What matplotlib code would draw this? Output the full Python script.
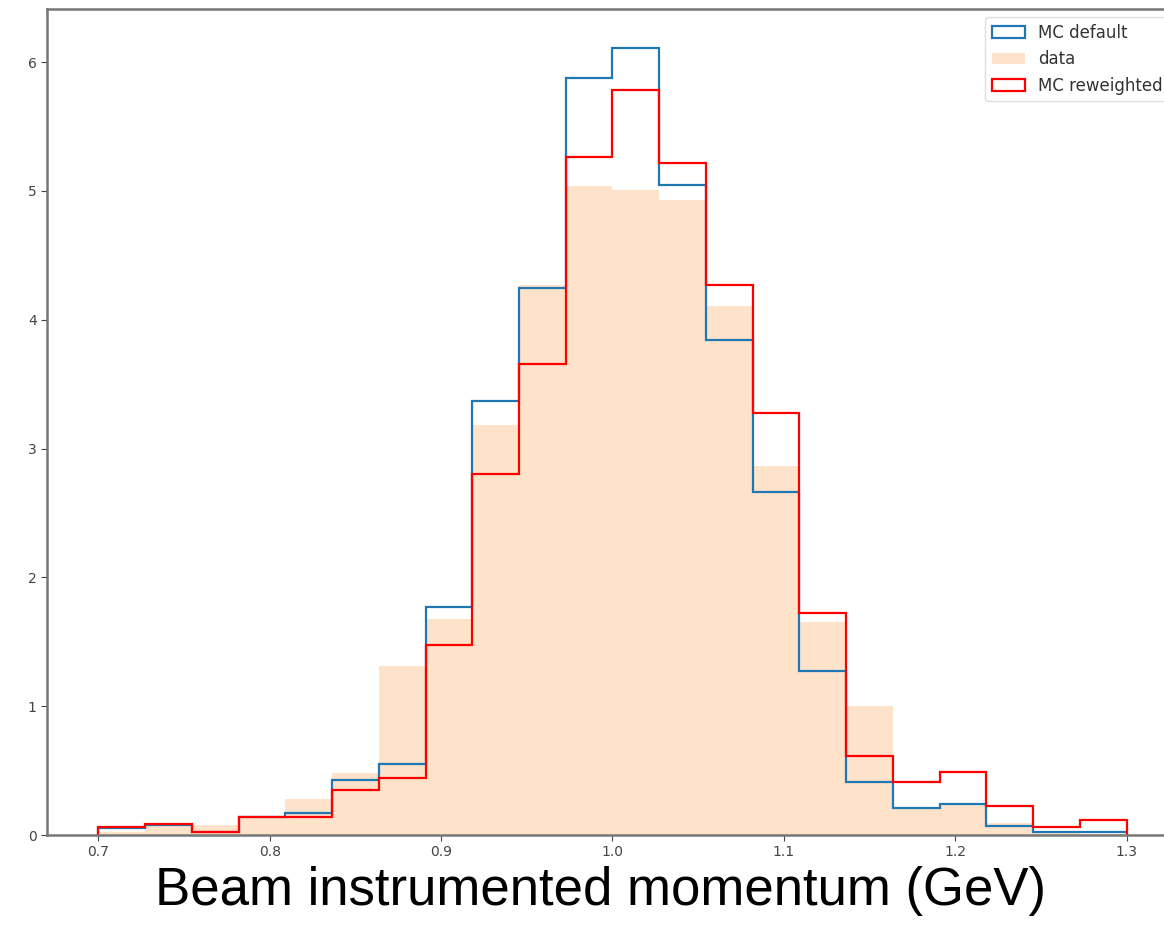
import numpy as np
import matplotlib
matplotlib.use("Agg")
import matplotlib.pyplot as plt

# Bin range / count
x_min, x_max, n_bins = 0.7, 1.3, 22

mc_default = [0.052, 0.08, 0.023, 0.143, 0.168, 0.427, 0.549, 1.772, 3.372, 4.245,
              5.874, 6.107, 5.048, 3.84, 2.665, 1.277, 0.41, 0.207, 0.238, 0.073,
              0.026, 0.026]
data = [0.02, 0.08, 0.078, 0.135, 0.277, 0.479, 1.313, 1.68, 3.18, 4.27,
        5.04, 5.004, 4.93, 4.11, 2.867, 1.652, 1.002, 0.2, 0.25, 0.09,
        0.02, 0.01]
mc_reweighted = [0.065, 0.083, 0.023, 0.143, 0.143, 0.35, 0.44, 1.478, 2.805, 3.657,
                 5.26, 5.78, 5.216, 4.27, 3.277, 1.727, 0.614, 0.41, 0.487, 0.222,
                 0.065, 0.117]

xticks = [0.7, 0.8, 0.9, 1.0, 1.1, 1.2, 1.3]
yticks = [0, 1, 2, 3, 4, 5, 6]
xlabel = "Beam instrumented momentum (GeV)"

edges = np.linspace(x_min, x_max, n_bins + 1)
centers = 0.5 * (edges[:-1] + edges[1:])

fig = plt.figure(figsize=(11.64, 9.46), dpi=100)
ax = fig.add_axes([0.0404, 0.1173, 0.9716, 0.8732])

ax.hist(centers, bins=edges, weights=mc_default, histtype="step",
        color="#1f77b4", linewidth=1.6, label="MC default")
ax.hist(centers, bins=edges, weights=data, histtype="stepfilled",
        color="#ff7f0e", alpha=0.22, linewidth=0, label="data")
ax.hist(centers, bins=edges, weights=mc_reweighted, histtype="step",
        color="red", linewidth=1.6, label="MC reweighted")

ax.set_xticks(xticks)
ax.set_yticks(yticks)
ax.set_xticklabels([f"{t:.1f}" for t in xticks])
ax.tick_params(labelsize=10, colors="#444444", length=4)
for s in ax.spines.values():
    s.set_color("#777777")
    s.set_linewidth(1.8)

leg = ax.legend(loc="upper right", fontsize=12, framealpha=1)
leg.get_frame().set_edgecolor("#dddddd")
for t in leg.get_texts():
    t.set_color("#333333")

fig.text(0.5155, 1 - 905 / 946, xlabel, ha="center", va="baseline",
         fontsize=38, family="Liberation Sans", color="black")

fig.savefig("out.png", dpi=100)
